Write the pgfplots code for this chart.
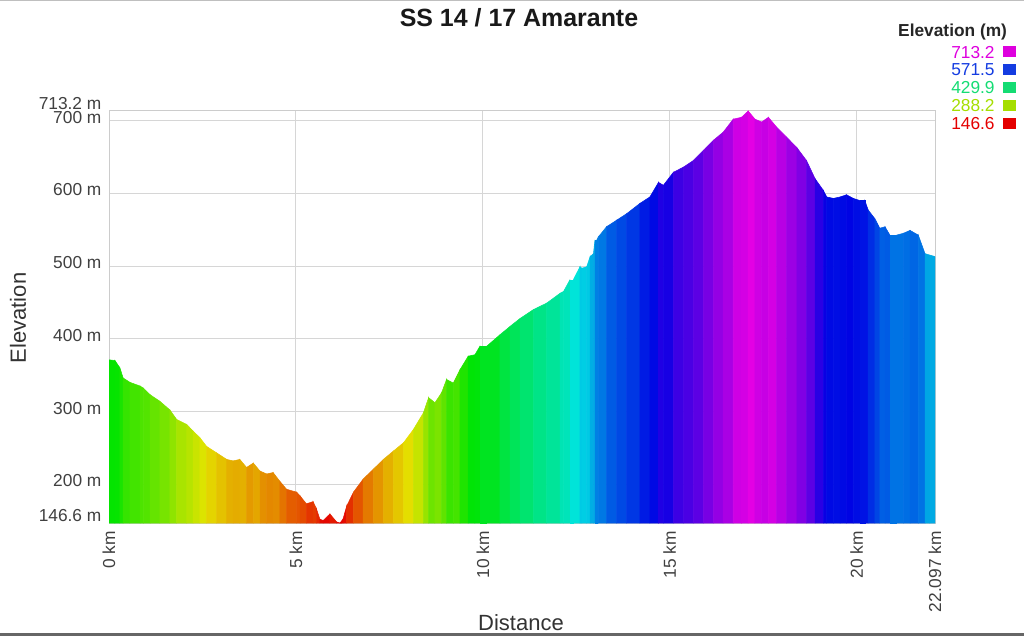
\documentclass[border=0pt]{standalone}
\usepackage{pgfplots}
\usepackage{pgfplotstable}
\pgfplotsset{compat=1.18}
\usepackage{fontspec}
\setmainfont{Liberation Sans}

\definecolor{c713}{RGB}{222,0,222}
\definecolor{c571}{RGB}{20,60,225}
\definecolor{c429}{RGB}{20,220,115}
\definecolor{c288}{RGB}{165,222,0}
\definecolor{c146}{RGB}{228,0,0}
\definecolor{framegray}{RGB}{204,204,204}
\definecolor{gridgray}{RGB}{214,214,214}

\pgfplotstableread{
x e
0.00 371
0.16 370
0.29 360
0.38 346
0.56 340
0.83 335
0.92 332
1.10 323
1.36 314
1.63 302
1.81 289
2.08 282
2.25 273
2.43 264
2.61 252
2.88 243
3.15 234
3.32 232
3.50 234
3.68 223
3.86 229
4.04 218
4.22 214
4.39 216
4.57 204
4.75 193
5.02 189
5.11 184
5.28 173
5.46 176
5.55 166
5.64 152
5.73 150
5.91 159
6.09 148
6.18 146.6
6.26 152
6.36 170
6.54 189
6.80 207
7.07 220.5
7.34 234
7.61 245.6
7.88 257
8.14 275
8.41 298
8.55 319
8.72 312
8.90 326
9.03 344
9.21 339
9.39 357.5
9.61 376
9.79 378
9.92 389.5
10.10 389.5
10.46 405.5
10.73 417
11.00 428
11.35 440
11.71 449
12.07 462.6
12.16 465
12.33 481
12.42 481
12.60 499
12.65 497
12.78 499
12.87 513
12.96 517
13.00 536
13.05 536
13.09 540
13.31 554
13.58 563
13.85 572
14.20 586
14.47 595
14.70 615
14.83 611
15.10 629
15.37 636
15.63 645
15.90 659
16.17 673
16.43 684
16.70 702
16.92 704.5
17.10 713.2
17.28 702
17.46 698
17.64 704.5
17.86 691
18.13 677
18.40 663
18.66 645
18.89 620
19.11 604
19.20 595
19.38 593
19.56 595
19.73 598
19.91 593
20.09 590
20.22 590
20.31 577
20.49 565
20.62 552
20.76 554
20.89 542.5
21.07 542.5
21.25 545
21.43 549
21.65 542.5
21.83 517
21.96 515
22.097 513
}\profdata

\pgfplotstablegetrowsof{\profdata}
\let\nrows=\pgfplotsretval
\pgfplotstablecreatecol[create col/expr={\thisrow{e}}]{m}\profdata
\pgfplotstablecreatecol[create col/expr={\thisrow{e}}]{y}\profdata
\pgfplotstablenew[
  create on use/x/.style={create col/copy column from table={\profdata}{x}},
  create on use/y/.style={create col/set={146.6}},
  create on use/m/.style={create col/copy column from table={\profdata}{e}},
  columns={x,y,m}]{\nrows}\profsurf
\pgfplotstablevertcat{\profsurf}{\profdata}

\begin{document}
\begin{tikzpicture}
\useasboundingbox (0pt,0pt) rectangle (768pt,477pt);
\fill[black!60] (0pt,0pt) rectangle (768pt,2pt);
\draw[black!25, line width=0.75pt] (0pt,476.6pt) -- (768pt,476.6pt);

\begin{axis}[
  at={(81.75pt,84.75pt)}, anchor=south west,
  scale only axis, width=619.5pt, height=309pt,
  xmin=0, xmax=22.097, ymin=146.6, ymax=713.2,
  axis line style={draw=framegray, line width=0.75pt},
  grid=major, grid style={draw=gridgray, line width=0.75pt},
  major tick length=0pt,
  xtick={0,5,10,15,20,22.097},
  xticklabels={0 km,5 km,10 km,15 km,20 km,22.097 km},
  ytick={200,300,400,500,600,700},
  yticklabels={200 m,300 m,400 m,500 m,600 m,700 m},
  extra y ticks={146.6,713.2},
  extra y tick labels={146.6 m,713.2 m},
  extra y tick style={grid=none, yticklabel style={yshift=3.3pt}},
  tick label style={font=\fontsize{13}{15}\selectfont, text=black!75},
  yticklabel style={anchor=east, inner sep=0pt, xshift=-5.5pt, yshift=2.5pt},
  xticklabel style={rotate=90, anchor=east, inner sep=0pt},
  xticklabel shift=6pt,
  colormap={elev}{rgb255=(228,0,0) rgb255=(228,228,0) rgb255=(0,228,0) rgb255=(0,228,228) rgb255=(0,0,228) rgb255=(228,0,228)},
  point meta min=146.6, point meta max=713.2,
  legend style={at={(1.098,1.159)}, anchor=north east, draw=none, fill=none,
    inner sep=0pt, outer sep=0pt, row sep=0pt, column sep=6pt,
    font=\fontsize{13}{15}\selectfont,
    nodes={inner sep=0pt, text height=9.4pt, text depth=4pt}},
  legend cell align=right,
  legend plot pos=right,
  legend image code/.code={\path[#1] (0pt,-2.2pt) rectangle (10pt,6.1pt);},
]
\addplot[surf, shader=flat corner, mesh/rows=2, point meta=\thisrow{m}, forget plot]
  table[x=x, y=y] {\profsurf};
\addlegendimage{fill=c713, draw=none}
\addlegendentry{\textcolor{c713}{713.2}}
\addlegendimage{fill=c571, draw=none}
\addlegendentry{\textcolor{c571}{571.5}}
\addlegendimage{fill=c429, draw=none}
\addlegendentry{\textcolor{c429}{429.9}}
\addlegendimage{fill=c288, draw=none}
\addlegendentry{\textcolor{c288}{288.2}}
\addlegendimage{fill=c146, draw=none}
\addlegendentry{\textcolor{c146}{146.6}}
\end{axis}

\node[anchor=base, font=\fontsize{18.7}{22}\selectfont\bfseries, text=black!90] at (389.25pt,456.75pt) {SS 14 / 17 Amarante};
\node[rotate=90, font=\fontsize{16.5}{20}\selectfont, text=black!80] at (13.5pt,238.5pt) {Elevation};
\node[anchor=base, font=\fontsize{16.5}{20}\selectfont, text=black!80] at (390.75pt,4.5pt) {Distance};
\node[anchor=base east, font=\fontsize{13}{15}\selectfont\bfseries, text=black!85] at (758.8pt,449.5pt) {Elevation (m)};
\end{tikzpicture}
\end{document}
